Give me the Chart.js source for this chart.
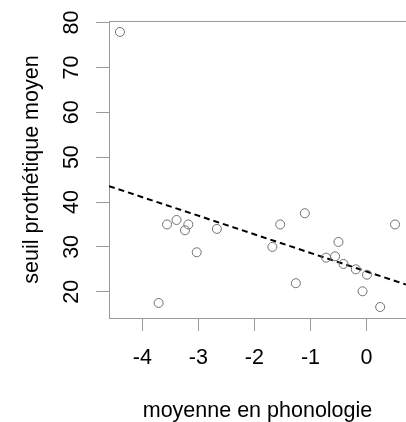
<!DOCTYPE html>
<html>
<head>
<meta charset="utf-8">
<script src="https://cdn.jsdelivr.net/npm/chart.js@4/dist/chart.umd.min.js"></script>
<style>
  html, body { margin: 0; padding: 0; background: #fff; overflow: hidden; }
  #wrap { width: 406px; height: 422px; }
</style>
</head>
<body>
<div id="wrap"><canvas id="c" width="406" height="422"></canvas></div>
<script>
// Data
const phonologie = [-4.40, -3.71, -3.56, -3.39, -3.24, -3.18, -3.03, -2.67, -1.68, -1.54, -1.26, -1.10, -0.72, -0.56, -0.50, -0.41, -0.19, -0.07, 0.01, 0.245, 0.51];
const seuil      = [77.9, 17.5, 35.0, 36.0, 33.7, 35.0, 28.8, 34.0, 30.0, 35.0, 21.9, 37.5, 27.6, 27.9, 31.1, 26.2, 25.0, 20.1, 23.8, 16.6, 35.0];
// Dashed regression line end points (read at the plot edges)
const fitX = [-4.596, 0.706];
const fitY = [43.55, 21.6];
// Axis ranges and ticks
const xRange = [-4.596, 0.706];
const yRange = [14.15, 80.35];
const xTicks = [-4, -3, -2, -1, 0];
const yTicks = [20, 30, 40, 50, 60, 70, 80];
const xTitle = 'moyenne en phonologie';
const yTitle = 'seuil prothétique moyen';

const FONT = { family: "'Liberation Sans', Arial, Helvetica, sans-serif", size: 21.5 };
const AXIS_GRAY = '#9a9a9a';

const topBorder = {
  id: 'topBorder',
  afterDraw(chart) {
    const { ctx, chartArea: a } = chart;
    ctx.save();
    ctx.strokeStyle = AXIS_GRAY;
    ctx.lineWidth = 1;
    ctx.beginPath();
    ctx.moveTo(a.left, Math.round(a.top) + 0.5);
    ctx.lineTo(a.right, Math.round(a.top) + 0.5);
    ctx.stroke();
    ctx.restore();
  }
};

new Chart(document.getElementById('c'), {
  type: 'scatter',
  data: {
    datasets: [
      {
        type: 'scatter',
        data: phonologie.map((x, i) => ({ x: x, y: seuil[i] })),
        pointStyle: 'circle',
        pointRadius: 4.5,
        pointBorderWidth: 1,
        pointBorderColor: '#707070',
        pointBackgroundColor: 'rgba(0,0,0,0)',
        showLine: false
      },
      {
        type: 'line',
        data: fitX.map((x, i) => ({ x: x, y: fitY[i] })),
        borderColor: '#000',
        borderWidth: 2,
        borderDash: [6, 4],
        pointRadius: 0,
        fill: false,
        showLine: true
      }
    ]
  },
  options: {
    responsive: false,
    animation: false,
    events: [],
    layout: { autoPadding: false, padding: { top: 21, right: 0, bottom: 0, left: 0 } },
    plugins: { legend: { display: false }, tooltip: { enabled: false } },
    scales: {
      x: {
        type: 'linear',
        min: xRange[0],
        max: xRange[1],
        afterBuildTicks: s => { s.ticks = xTicks.map(v => ({ value: v })); },
        afterFit: s => { s.height = 104; s.paddingLeft = 0; s.paddingRight = 0; },
        grid: { drawOnChartArea: false, drawTicks: true, tickLength: 13, tickColor: AXIS_GRAY },
        border: { display: true, color: AXIS_GRAY, width: 1 },
        ticks: { font: FONT, color: '#000', padding: 14, maxRotation: 0, autoSkip: false },
        title: { display: true, text: xTitle, font: FONT, color: '#000', padding: { top: 0, bottom: -2 } }
      },
      y: {
        type: 'linear',
        min: yRange[0],
        max: yRange[1],
        afterBuildTicks: s => { s.ticks = yTicks.map(v => ({ value: v })); },
        afterFit: s => { s.width = 109; s.paddingTop = 0; s.paddingBottom = 0; },
        grid: { drawOnChartArea: false, drawTicks: true, tickLength: 13, tickColor: AXIS_GRAY },
        border: { display: true, color: AXIS_GRAY, width: 1 },
        ticks: { font: FONT, color: '#000', padding: 12, minRotation: 90, maxRotation: 90, crossAlign: 'center', autoSkip: false },
        title: { display: true, text: yTitle, font: FONT, color: '#000', padding: { top: 19, bottom: 0 } }
      }
    }
  },
  plugins: [topBorder]
});
</script>
</body>
</html>
